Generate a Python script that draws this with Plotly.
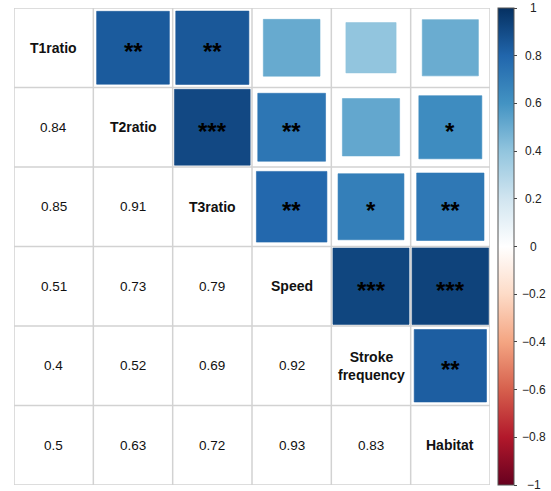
import numpy as np
import plotly.graph_objects as go
from plotly.colors import sample_colorscale

# Variables (diagonal labels)
variables = ["T1ratio", "T2ratio", "T3ratio", "Speed", "Stroke<br>frequency", "Habitat"]

# Pairwise correlations, listed row by row for the upper triangle (i < j)
pair_i = [0, 0, 0, 0, 0, 1, 1, 1, 1, 2, 2, 2, 3, 3, 4]
pair_j = [1, 2, 3, 4, 5, 2, 3, 4, 5, 3, 4, 5, 4, 5, 5]
pair_r = [0.84, 0.85, 0.51, 0.40, 0.50,
          0.91, 0.73, 0.52, 0.63,
          0.79, 0.69, 0.72,
          0.92, 0.93,
          0.83]
pair_sig = ["**", "**", "", "", "",
            "***", "**", "", "*",
            "**", "*", "**",
            "***", "***",
            "**"]

cbar_ticks = [1, 0.8, 0.6, 0.4, 0.2, 0, -0.2, -0.4, -0.6, -0.8, -1]

rdbu = ["#67001F", "#B2182B", "#D6604D", "#F4A582", "#FDDBC7", "#FFFFFF",
        "#D1E5F0", "#92C5DE", "#4393C3", "#2166AC", "#053061"]
colorscale = [[k / 10, c] for k, c in enumerate(rdbu)]

n = len(variables)
W, H = 551, 491
margin = dict(l=14, r=61, t=8, b=6)
font_family = "Liberation Sans, Arial, Helvetica"

fig = go.Figure()
shapes = []

# Grid of cells
grid_col = "#d2d2d2"
for k in range(n + 1):
    p = k + 0.5
    shapes.append(dict(type="line", xref="x", yref="y", x0=p, x1=p, y0=0.5, y1=n + 0.5,
                       line=dict(color=grid_col, width=1.5), layer="below"))
    shapes.append(dict(type="line", xref="x", yref="y", x0=0.5, x1=n + 0.5, y0=p, y1=p,
                       line=dict(color=grid_col, width=1.5), layer="below"))

# Upper triangle: squares with area proportional to |r|
for i, j, r in zip(pair_i, pair_j, pair_r):
    cx, cy = j + 1, i + 1
    half = np.sqrt(abs(r)) / 2
    col = sample_colorscale(colorscale, [(r + 1) / 2], colortype="rgb")[0]
    shapes.append(dict(type="rect", xref="x", yref="y",
                       x0=cx - half, x1=cx + half, y0=cy - half, y1=cy + half,
                       fillcolor=col, line=dict(width=0.6, color=col), layer="above"))

annotations = []
# Diagonal variable names
for k, name in enumerate(variables):
    annotations.append(dict(x=k + 1, y=k + 1, xref="x", yref="y", text="<b>%s</b>" % name,
                            showarrow=False,
                            font=dict(family=font_family, size=14, color="#111")))
# Lower triangle: correlation values
for i, j, r in zip(pair_i, pair_j, pair_r):
    annotations.append(dict(x=i + 1, y=j + 1, xref="x", yref="y", text=f"{r:g}",
                            showarrow=False,
                            font=dict(family=font_family, size=13.5, color="#111")))
# Significance stars on the squares
for i, j, s in zip(pair_i, pair_j, pair_sig):
    if s:
        annotations.append(dict(x=j + 1, y=i + 1, xref="x", yref="y", text="<b>%s</b>" % s,
                                showarrow=False, yshift=-4,
                                font=dict(family=font_family, size=24, color="#000")))

# Colour-bar tick labels, centred beside the bar
for t in cbar_ticks:
    annotations.append(dict(x=1.0924, y=(t + 1) / 2, xref="paper", yref="paper",
                            text=f"{t:g}".replace("-", "\u2212"), showarrow=False,
                            xanchor="center", yanchor="middle",
                            font=dict(family=font_family, size=12, color="#222")))

# Invisible points carrying the colour scale for the colour bar
fig.add_trace(go.Scatter(
    x=[j + 1 for j in pair_j], y=[i + 1 for i in pair_i], mode="markers",
    marker=dict(size=0.1, opacity=0, color=pair_r, cmin=-1, cmax=1, colorscale=colorscale,
                showscale=True,
                colorbar=dict(thickness=16, thicknessmode="pixels", len=1, lenmode="fraction",
                              y=0.5, yanchor="middle", ypad=0, xpad=0,
                              x=1.0168, xanchor="left",
                              outlinewidth=1, outlinecolor="#555",
                              ticks="outside", ticklen=3, tickcolor="#444",
                              tickvals=cbar_ticks, showticklabels=False)),
    hoverinfo="skip", showlegend=False))

fig.update_xaxes(range=[0.5, n + 0.5], visible=False, fixedrange=True)
fig.update_yaxes(range=[n + 0.5, 0.5], visible=False, fixedrange=True)
fig.update_layout(width=W, height=H, margin=margin, paper_bgcolor="white",
                  plot_bgcolor="white", shapes=shapes, annotations=annotations,
                  showlegend=False)

fig.write_html("out.html")
